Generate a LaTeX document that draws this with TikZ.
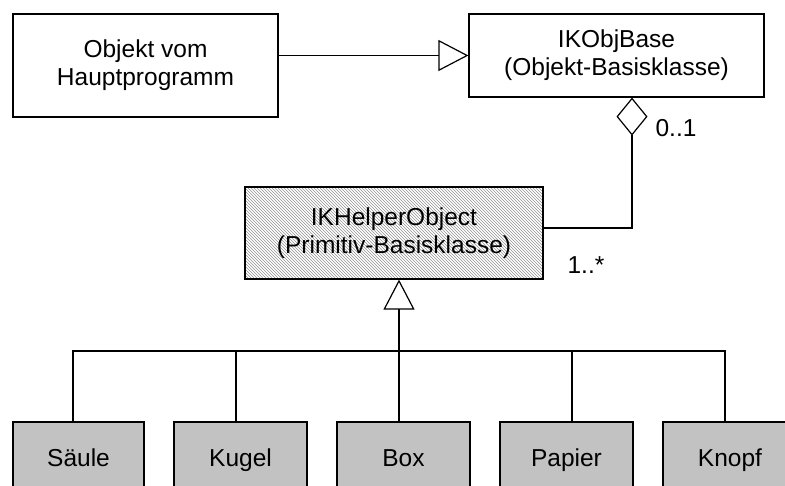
\documentclass[tikz,border=0pt]{standalone}
\usepackage{fontspec}
\setmainfont{Liberation Sans}
\usetikzlibrary{arrows.meta,patterns}
\definecolor{leafgray}{RGB}{194,194,194}
\begin{document}
\begin{tikzpicture}[x=1pt,y=-1pt,line width=1.2pt,
  cls/.style={draw, rectangle, align=center, inner sep=0pt,
    font=\fontsize{24.5}{28}\selectfont},
  leaf/.style={cls, fill=leafgray, minimum height=76pt, text height=17.5pt, text depth=5pt},
  lbl/.style={inner sep=0pt, font=\fontsize{24.5}{28}\selectfont},
  gen/.style={-{Triangle[open,length=30pt,width=31pt]}},
  agg/.style={-{Diamond[open,length=38pt,width=31pt]}}]
\useasboundingbox (0,0) rectangle (785,486);
\clip (0,0) rectangle (785,486);
\node[cls, minimum width=265pt, minimum height=103pt] (obj) at (145.5,65.5) {Objekt vom\\Hauptprogramm};
\node[cls, minimum width=295pt, minimum height=83pt] (base) at (616.5,55.5) {IKObjBase\\(Objekt-Basisklasse)};
\node[cls, minimum width=298pt, minimum height=92pt, pattern=north west lines, pattern color=gray!85] (helper) at (394,233) {IKHelperObject\\(Primitiv-Basisklasse)};
\node[leaf, minimum width=131pt] (s1) at (78.5,460) {Säule};
\node[leaf, minimum width=133pt] (s2) at (240.5,460) {Kugel};
\node[leaf, minimum width=133pt] (s3) at (403.5,460) {Box};
\node[leaf, minimum width=133pt] (s4) at (566.5,460) {Papier};
\node[leaf, minimum width=134pt] (s5) at (730,460) {Knopf};
\node[lbl] (m1) at (676,128) {0..1};
\node[lbl] (m2) at (586,265) {1..*};
\draw[gen] (obj.east |- base.west) -- (base.west);
\draw[agg] ([yshift=5pt]helper.east) -| ([xshift=15.5pt]base.south);
\coordinate (bus) at (399,351);
\draw[gen] (bus) -- (bus |- helper.south);
\draw ([xshift=-5.5pt]s1.north) |- ([xshift=-5pt]s5.north |- bus) -- ([xshift=-5pt]s5.north);
\draw ([xshift=-4.5pt]s2.north) -- ([xshift=-4.5pt]s2.north |- bus);
\draw (bus) -- (s3.north -| bus);
\draw ([xshift=5.5pt]s4.north) -- ([xshift=5.5pt]s4.north |- bus);
\end{tikzpicture}
\end{document}
